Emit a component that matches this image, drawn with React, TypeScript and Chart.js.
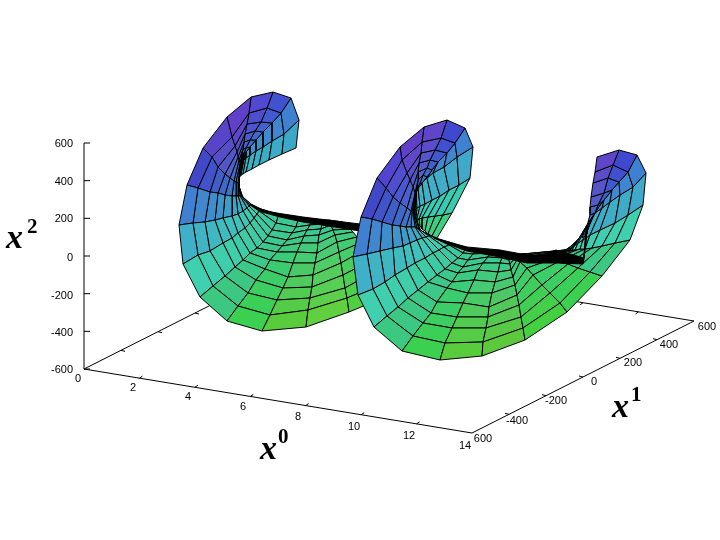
import React, { useEffect, useRef } from "react";
import { Chart, registerables } from "chart.js";
Chart.register(...registerables);

type P = [number, number];

// Mesh: each column runs from the outer rim to the throat.
const firstColumns: P[][] = [
  [[296,148],[282,154],[269,160],[259,165],[252,169],[246,172],[243,174],[241,175],[240,176],[240,176],[239,177],[239,177]],
  [[299,120],[284,134],[272,141],[263,147],[256,151],[250,155],[246,158],[244,160],[243,161],[242,162],[242,163],[241,164]],
  [[291,98],[281,113],[272,123],[263,132],[256,140],[250,147],[246,152],[244,156],[243,158],[242,160],[242,162],[241,164]],
  [[273,92],[267,108],[261,122],[255,131],[250,140],[246,148],[244,153],[243,156],[242,159],[242,161],[241,163],[241,165]],
  [[251,97],[249,113],[247,124],[245,134],[244,142],[243,149],[242,154],[242,158],[241,161],[241,163],[241,165],[241,166]],
  [[227,117],[232,137],[235,146],[237,152],[238,157],[239,160],[240,163],[240,165],[240,166],[240,167],[240,169],[240,170]],
  [[203,148],[212,157],[218,167],[225,174],[230,178],[234,181],[236,182],[238,183],[239,184],[239,185],[239,186],[239,187]],
  [[187,185],[198,188],[210,192],[218,193],[225,195],[232,196],[236,196],[238,196],[240,196],[241,196],[242,196],[243,197]],
  [[179,225],[193,223],[205,222],[215,220],[223,218],[232,216],[238,214],[243,211],[247,208],[249,206],[250,205],[251,204]],
  [[183,264],[198,255],[210,251],[223,243],[232,238],[238,233],[245,228],[250,223],[254,218],[257,214],[259,211],[261,209]],
  [[200,297],[213,286],[225,276],[235,267],[243,260],[250,253],[257,248],[263,242],[268,236],[272,230],[276,223],[279,214]],
  [[227,321],[238,306],[248,293],[256,280],[265,269],[270,260],[277,252],[282,246],[287,240],[292,233],[296,227],[299,217]],
  [[262,331],[270,315],[277,300],[283,288],[288,277],[293,263],[297,252],[301,243],[304,236],[307,230],[310,225],[312,219]],
  [[306,327],[308,310],[310,298],[312,287],[313,275],[315,263],[317,253],[318,243],[319,235],[321,229],[322,224],[324,220]],
  [[349,312],[347,298],[345,288],[343,275],[341,263],[339,252],[337,242],[335,235],[333,230],[331,225],[330,223],[329,220]],
  [[385,297],[378,285],[372,273],[368,262],[364,250],[360,243],[357,237],[353,232],[350,229],[347,227],[345,225],[343,222]],
];
const firstRimColors = ["#3CA8C8","#4080D0","#4052D0","#5048D0","#6040C8","#5844C8","#4048C8","#4080D0","#40B0C8","#40D0B0","#3CC880","#3CD050","#58CC3C","#60D040","#50D040"];
const firstInnerColors = ["#38C0C0","#3CA8C8","#3C90C8","#3C80C8","#3C80C8","#3C90C8","#3CA0C8","#3CB8C0","#3CCCB0","#3CC8A0","#3CC890","#3CC890","#3CC890","#3CC890","#3CC890"];

const secondColumns: P[][] = [
  [[437,238],[432,236],[428,234],[425,231],[422,229],[420,226],[418,224],[417,222],[416,221],[415,220],[415,220],[414,220]],
  [[452,213],[443,215],[435,216],[428,217],[422,218],[419,219],[417,219],[416,219],[415,219],[415,219],[414,220],[414,220]],
  [[470,178],[459,185],[449,190],[440,196],[432,200],[425,204],[420,206],[417,208],[415,210],[414,210],[414,211],[413,211]],
  [[473,147],[457,157],[444,167],[433,173],[427,178],[422,183],[418,188],[416,190],[415,192],[415,193],[414,194],[414,195]],
  [[465,128],[455,143],[447,153],[438,162],[432,170],[427,177],[422,183],[419,187],[418,189],[417,190],[416,192],[415,194]],
  [[447,120],[441,138],[435,150],[430,160],[427,168],[423,175],[420,183],[418,187],[417,190],[416,191],[416,193],[415,195]],
  [[424,127],[422,142],[421,153],[419,163],[418,172],[418,180],[417,188],[417,190],[416,192],[416,193],[416,195],[416,196]],
  [[400,147],[402,160],[407,173],[410,180],[413,187],[415,193],[415,196],[415,198],[415,200],[415,201],[415,202],[415,203]],
  [[377,178],[386,188],[393,197],[400,203],[407,208],[411,211],[412,212],[413,213],[413,214],[414,214],[414,215],[414,215]],
  [[361,217],[372,219],[382,222],[392,225],[400,226],[406,227],[411,227],[415,227],[417,228],[419,229],[420,230],[421,231]],
  [[353,257],[367,254],[380,251],[393,248],[403,246],[410,243],[417,240],[422,238],[426,237],[429,236],[431,236],[433,237]],
  [[358,295],[373,289],[385,282],[395,275],[407,268],[415,263],[425,258],[433,253],[439,250],[444,247],[449,245],[452,243]],
  [[374,327],[387,316],[398,307],[408,298],[418,290],[428,282],[437,275],[445,269],[452,263],[458,258],[463,253],[466,248]],
  [[402,351],[413,336],[423,323],[431,313],[437,302],[447,288],[452,282],[458,273],[463,267],[468,260],[473,254],[477,250]],
  [[440,360],[445,343],[452,328],[457,317],[463,303],[468,293],[474,280],[478,270],[483,263],[488,257],[490,253],[492,251]],
  [[482,356],[483,342],[486,328],[488,317],[489,307],[492,293],[495,282],[498,272],[500,263],[502,258],[503,254],[504,252]],
  [[525,340],[523,328],[521,317],[519,305],[517,295],[515,285],[513,277],[511,270],[510,264],[509,260],[508,256],[507,253]],
  [[567,312],[560,303],[550,293],[542,285],[533,275],[527,268],[520,262],[517,260],[515,258],[514,256],[513,255],[512,254]],
  [[602,276],[590,272],[578,268],[568,264],[558,262],[550,260],[543,258],[537,257],[532,256],[527,255],[524,254],[522,254]],
  [[630,240],[615,243],[602,246],[592,248],[585,249],[580,249],[575,250],[572,250],[570,250],[568,250],[566,250],[564,250]],
  [[643,205],[628,215],[615,223],[600,230],[590,235],[583,240],[578,243],[575,245],[573,247],[571,248],[569,248],[567,249]],
  [[646,173],[633,187],[620,195],[610,202],[602,208],[595,213],[590,220],[587,225],[585,230],[584,232],[583,235],[582,238]],
  [[637,155],[628,172],[619,182],[612,190],[604,200],[598,208],[593,215],[590,222],[589,226],[588,229],[587,232],[587,234]],
  [[619,150],[613,165],[608,178],[604,193],[598,205],[595,213],[590,220],[588,225],[587,228],[587,230],[586,232],[586,234]],
  [[597,157],[595,172],[593,183],[591,197],[590,207],[590,215],[588,222],[587,230],[586,240],[585,250],[584,258],[583,263]],
];
const secondRimColors = ["#3CD080","#38CCB0","#40A8C8","#4080D0","#4048D0","#5F45C9","#6040C8","#5044D0","#4048C8","#4080D0","#40B0C8","#40D0B0","#3CC880","#3CD050","#58CC3C","#5CC83C","#44D040","#3CD050","#3CC880","#40D0B0","#40A8C8","#4080D0","#4048D0","#5F45C9"];
const secondInnerColors = ["#38C8A0","#38C8C0","#3CB8C8","#3CA8C8","#3C90C8","#3C80C8","#3C80C8","#3C90C8","#3CA0C8","#3CB8C0","#3CCCB0","#3CC8A0","#3CC890","#3CC890","#3CC890","#3CC890","#3CC890","#3CC890","#3CC8A0","#3CCCB0","#3CB8C0","#3CA8C8","#3C90C8","#3C80C8"];

const firstThroat: P[] = [[250,204],[258,208],[270,212],[303,217],[360,224],[360,231],[303,222],[280,217],[262,212],[252,206]];
const secondThroat: P[] = [[434,238],[445,241],[467,247],[500,250],[527,255],[543,255],[556,250],[570,254],[584,258],[583,264],[557,263],[527,263],[500,257],[467,251],[445,243]];

// Box of the plot
const origin: P = [84, 369];
const frontCorner: P = [472, 433];
const rightCorner: P = [694, 321];
const backCorner: P = [306, 257];
const topCorner: P = [84, 143];

const x0Labels = ["0","2","4","6","8","10","12","14"];
const x0LabelX = [78,133,188,243,298,354,409,465];
const x0LabelY = [379,388,397,407,417,427,436,446];
const x1Labels = ["600","-400","-200","0","200","400","600"];
const x1LabelX = [483,517,556,594,633,669,707];
const x1LabelY = [439,421,401,382,363,345,327];
const x2Labels = ["600","400","200","0","-200","-400","-600"];
const x2LabelY = [144,182,219,258,296,333,370];

const axisTitles: [string, string, number, number, number, number][] = [
  ["x", "2", 6, 248, 27, 233],
  ["x", "0", 260, 459, 278, 443],
  ["x", "1", 612, 417, 631, 401],
];

const BLACK = "#000000";

function hexMix(a: string, b: string, t: number) {
  const p = (h: string, i: number) => parseInt(h.slice(i, i + 2), 16);
  const c = [1, 3, 5].map((i) => Math.round(p(a, i) * (1 - t) + p(b, i) * t));
  return `rgb(${c[0]},${c[1]},${c[2]})`;
}
const pts = (l: P[]) => l.map(([x, y]) => ({ x, y }));
const lineSet = (l: P[], w = 1) => ({
  data: pts(l), showLine: true, pointRadius: 0, borderColor: BLACK, borderWidth: w, fill: false, tension: 0,
});
const polySet = (l: P[], color: string, w = 1) => ({
  data: pts([...l, l[0]]), showLine: true, pointRadius: 0, borderColor: BLACK, borderWidth: w,
  backgroundColor: color, fill: "shape", tension: 0,
});
function meshSets(cols: P[][], rim: string[], inner: string[]) {
  const out: any[] = [];
  for (let c = 0; c < cols.length - 1; c++) {
    for (let r = cols[c].length - 2; r >= 0; r--) {
      const col = hexMix(rim[c], inner[c], Math.min(1, r / 8));
      out.push(polySet([cols[c][r], cols[c + 1][r], cols[c + 1][r + 1], cols[c][r + 1]], col, 1));
    }
  }
  return out;
}
const along = (a: P, b: P, k: number, n: number): P => [a[0] + ((b[0] - a[0]) * k) / n, a[1] + ((b[1] - a[1]) * k) / n];

function axisSets() {
  const out: any[] = [
    lineSet([origin, frontCorner]), lineSet([frontCorner, rightCorner]),
    lineSet([rightCorner, backCorner]), lineSet([backCorner, origin]), lineSet([origin, topCorner]),
  ];
  for (let k = 0; k < 7; k++) {
    const p = along(topCorner, origin, k, 6);
    out.push(lineSet([p, [p[0] + 6, p[1]]]));
  }
  for (let k = 1; k < 7; k++) {
    const a = along(origin, frontCorner, k, 7);
    out.push(lineSet([a, [a[0] + 3, a[1] - 2]]));
    const b = along(backCorner, rightCorner, k, 7);
    out.push(lineSet([b, [b[0] - 3, b[1] + 2]]));
  }
  for (let k = 1; k < 6; k++) {
    const a = along(frontCorner, rightCorner, k, 6);
    out.push(lineSet([a, [a[0] - 4, a[1] - 1]]));
    const b = along(origin, backCorner, k, 6);
    out.push(lineSet([b, [b[0] + 4, b[1] + 1]]));
  }
  return out;
}

const textPlugin = {
  id: "plotText",
  afterDraw(chart: any) {
    const { ctx, scales } = chart;
    const X = (v: number) => scales.x.getPixelForValue(v);
    const Y = (v: number) => scales.y.getPixelForValue(v);
    ctx.save();
    ctx.fillStyle = BLACK;
    ctx.font = '11px "Liberation Sans"';
    ctx.textBaseline = "middle";
    ctx.textAlign = "right";
    x2Labels.forEach((t, i) => ctx.fillText(t, X(73), Y(x2LabelY[i])));
    ctx.textAlign = "center";
    x0Labels.forEach((t, i) => ctx.fillText(t, X(x0LabelX[i]), Y(x0LabelY[i])));
    x1Labels.forEach((t, i) => ctx.fillText(t, X(x1LabelX[i]), Y(x1LabelY[i])));
    ctx.textAlign = "left";
    ctx.textBaseline = "alphabetic";
    axisTitles.forEach(([b, s, bx, by, sx, sy]) => {
      ctx.font = 'italic bold 34px "Liberation Serif"';
      ctx.fillText(b, X(bx), Y(by));
      ctx.font = 'bold 21px "Liberation Serif"';
      ctx.fillText(s, X(sx), Y(sy));
    });
    ctx.restore();
  },
};

export default function App() {
  const ref = useRef<HTMLCanvasElement>(null);
  useEffect(() => {
    document.body.style.margin = "0";
    document.body.style.background = "#fff";
    const paintOrder = [
      ...axisSets(),
      ...meshSets(firstColumns, firstRimColors, firstInnerColors),
      polySet(firstThroat, BLACK),
      ...meshSets(secondColumns, secondRimColors, secondInnerColors),
      polySet(secondThroat, BLACK),
    ];
    const chart = new Chart(ref.current!, {
      type: "scatter",
      data: { datasets: paintOrder.reverse() },
      options: {
        animation: false,
        responsive: false,
        layout: { padding: 0 },
        clip: false,
        plugins: { legend: { display: false }, tooltip: { enabled: false } },
        scales: {
          x: { type: "linear", min: 0, max: 720, display: false },
          y: { type: "linear", min: 0, max: 540, reverse: true, display: false },
        },
      },
      plugins: [textPlugin],
    } as any);
    return () => chart.destroy();
  }, []);
  return <canvas ref={ref} width={720} height={540} style={{ display: "block", width: 720, height: 540 }} />;
}
